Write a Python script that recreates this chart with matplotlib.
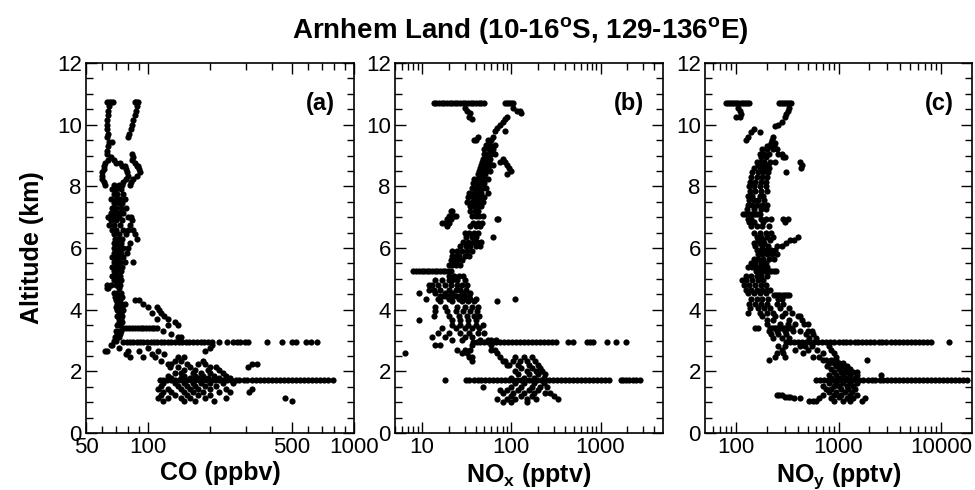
import matplotlib
matplotlib.use("Agg")
import matplotlib.pyplot as plt
from matplotlib.ticker import FixedLocator, FixedFormatter, MultipleLocator, NullFormatter

plt.rcParams['font.family'] = ['Liberation Sans', 'DejaVu Sans']
plt.rcParams['mathtext.fontset'] = 'custom'
plt.rcParams['mathtext.rm'] = 'Liberation Sans'
plt.rcParams['mathtext.bf'] = 'Liberation Sans:bold'
plt.rcParams['mathtext.it'] = 'Liberation Sans:italic'

# ---- data: (altitude km, [values at that altitude]) ----
co_profile = [
    (10.72, [63, 64.5, 66, 67.5, 86, 87.5, 89]), (10.6, [65, 88]), (10.45, [64, 87]),
    (10.3, [64, 86]), (10.15, [63, 85]), (10.0, [63, 84]), (9.85, [63, 83]),
    (9.7, [64, 81]), (9.6, [63, 80]), (9.45, [65, 67]), (9.3, [64]), (9.15, [63]),
    (9.05, [63, 84]), (8.95, [66, 85]), (8.85, [64, 68, 84]), (8.75, [62, 70, 73, 86]),
    (8.65, [61, 75, 77, 88, 89]), (8.55, [61, 78, 90]), (8.45, [60, 79, 91]),
    (8.35, [60, 80, 88]), (8.25, [60, 78, 85]), (8.15, [61, 76, 83]),
    (8.05, [62, 68, 72, 75, 82]), (7.9, [67, 70, 74]), (7.75, [68, 71, 76]),
    (7.6, [66, 70, 73, 77]), (7.45, [68, 72, 75]), (7.3, [67, 70, 74, 78]),
    (7.15, [66, 69, 72, 76]), (7.0, [64, 65, 67, 69, 72, 80, 83]), (6.9, [66, 70, 75, 84]),
    (6.75, [65, 68, 73, 82]), (6.6, [67, 70, 76, 80, 85]), (6.45, [68, 72, 78, 86]),
    (6.3, [69, 72, 75, 88]), (6.15, [68, 71, 74, 82]), (6.0, [68, 70, 73, 76, 80]),
    (5.85, [68, 71, 74, 79]), (5.7, [67, 70, 72, 76]), (5.55, [68, 71, 73, 77, 85]),
    (5.4, [67, 69, 72, 75]), (5.25, [68, 71, 74]), (5.1, [67, 70, 73]),
    (4.95, [68, 71, 74]), (4.8, [63, 66, 70, 73]), (4.7, [63, 64, 72]),
    (4.55, [68, 71, 74]), (4.4, [69, 72, 75]), (4.3, [70, 73, 86, 90]),
    (4.2, [71, 74, 77, 95]), (4.1, [70, 72, 75, 100, 110]), (4.0, [71, 73, 76, 113]),
    (3.9, [72, 74, 105, 115]), (3.8, [71, 73, 75, 120]), (3.7, [72, 74, 110, 125]),
    (3.6, [72, 75, 135]), (3.5, [71, 73, 125, 140]), (3.3, [70, 72, 74, 118]),
    (3.2, [71, 73, 130]), (3.1, [69, 72, 140, 145]), (3.0, [68, 70]),
    (2.85, [66, 67, 205]), (2.75, [72, 100, 200]), (2.65, [62, 63, 80, 90, 112, 190]),
    (2.55, [78, 105, 120]), (2.45, [82, 95, 108, 140, 150]), (2.35, [115, 135, 145, 185]),
    (2.25, [125, 130, 155, 175, 190, 320, 340]), (2.15, [128, 140, 160, 200, 215, 305]),
    (2.05, [150, 170, 195, 220]), (1.95, [135, 145, 165, 180, 200, 230]),
    (1.85, [125, 150, 170, 185, 210, 240]), (1.8, [130, 145, 160, 175, 195, 220, 250]),
    (1.62, [118, 135, 150, 165, 180, 200, 230, 260]), (1.52, [115, 140, 155, 170, 190, 215]),
    (1.42, [112, 125, 145, 160, 175, 200, 240, 320]),
    (1.32, [118, 130, 150, 165, 185, 220, 250, 310]), (1.22, [115, 135, 155, 175, 200]),
    (1.12, [112, 125, 145, 160, 190, 240, 465]), (1.04, [118, 150, 170, 210, 500]),
]
co_leg_alt = [3.42, 2.95, 1.72]
co_leg_ppbv = [
    [76, 78.5, 81, 83.5, 86, 89, 92, 95, 98, 101, 104, 107, 110],
    [76, 79, 82, 85, 88, 91, 95, 99, 103, 107, 111, 115, 120, 125, 130, 135, 141, 147,
     153, 159, 166, 173, 180, 188, 196, 205, 220, 241, 260, 270, 280, 295, 305, 378,
     446, 500, 525, 585, 620, 659],
    [114, 118, 123, 129, 135, 141, 148, 155, 162, 169, 177, 185, 194, 203, 212, 222,
     232, 243, 254, 266, 278, 291, 304, 318, 333, 348, 364, 381, 399, 417, 436, 456,
     477, 499, 522, 546, 571, 597, 625, 654, 684, 715, 748, 790],
]

nox_profile = [
    (10.55, [30, 105]), (10.45, [32, 115, 125]), (10.38, [35, 130]), (10.25, [34, 90]),
    (10.18, [36, 85]), (10.08, [80]), (9.98, [75]), (9.88, [70]), (9.78, [65, 85]),
    (9.6, [42, 62]), (9.5, [38, 40, 55, 60]), (9.35, [52, 58, 65]), (9.2, [50, 56, 62]),
    (9.05, [50, 55, 60, 65]), (8.9, [48, 53, 58, 80]), (8.8, [47, 52, 57, 75, 85]),
    (8.7, [46, 51, 56, 62, 90]), (8.6, [45, 50, 55, 95]), (8.5, [44, 48, 52, 58, 100]),
    (8.4, [43, 47, 51, 90]), (8.25, [38, 42, 46, 50, 55]), (8.1, [37, 41, 45, 49]),
    (7.95, [36, 40, 44, 48, 52]), (7.8, [34, 38, 42, 46, 55]), (7.65, [33, 37, 41, 45, 50]),
    (7.5, [32, 36, 40, 44, 48]), (7.35, [35, 38, 42, 46]), (7.2, [21, 22, 35, 39, 43]),
    (7.05, [20, 23, 24, 36, 40, 44, 48]), (6.95, [19, 21, 70, 72]),
    (6.8, [17, 18, 20, 37, 42, 47]), (6.7, [19, 35, 40, 45]), (6.5, [30, 34, 38, 42]),
    (6.35, [31, 36, 40, 63]), (6.2, [29, 33, 37, 41, 46]), (6.05, [27, 31, 35, 40, 45]),
    (5.9, [22, 25, 28, 32, 36]), (5.75, [22, 24, 26, 30, 34]), (5.6, [21, 23, 25, 28]),
    (5.45, [20, 22, 24, 27]), (5.1, [20, 23, 26, 29]), (4.95, [14, 17, 20, 22, 25, 30]),
    (4.8, [12, 13, 15, 18, 21, 25, 28, 32]), (4.65, [12, 13.5, 16, 20, 24, 27, 31]),
    (4.55, [9.3, 14, 18, 22, 29, 35]), (4.35, [11, 15, 20, 26, 30, 35, 40, 110]),
    (4.28, [16, 22, 28, 33, 38, 70]), (4.1, [14, 18, 25, 30, 36, 42]),
    (3.95, [14, 19, 24, 29, 35, 41]), (3.8, [13.5, 20, 26, 32, 38, 44]),
    (3.65, [9.3, 22, 27, 33, 40]), (3.5, [22, 27, 33, 40, 48]), (3.4, [17, 24, 30, 36, 44]),
    (3.25, [15, 20, 27, 34, 42, 50]), (3.1, [13, 18, 30, 36]),
    (3.02, [22, 28, 45, 55, 60, 68]), (2.85, [14, 16, 36, 60]), (2.7, [25, 30, 35, 60, 65]),
    (2.58, [6.5, 28, 32, 70]), (2.45, [34, 36, 75, 110, 140, 170]),
    (2.35, [36, 80, 85, 105, 125, 150, 185]), (2.22, [90, 95, 120, 160, 200]),
    (2.1, [130, 170, 210]), (2.0, [110, 150, 190, 220]), (1.9, [120, 160, 200, 240]),
    (1.8, [100, 140, 180, 230]), (1.62, [110, 140, 180, 230]),
    (1.5, [48, 100, 130, 170, 210, 250]), (1.4, [75, 90, 120, 160, 200]),
    (1.3, [80, 105, 140, 180, 240, 270]), (1.2, [100, 130, 170, 300]),
    (1.1, [70, 90, 110, 150, 190, 330]), (1.02, [80, 100, 150]),
]
nox_leg_alt = [10.7, 5.25, 4.45, 2.95, 1.72]
nox_leg_pptv = [
    [13.5, 14.5, 15.5, 16.6, 17.8, 19, 20.4, 21.8, 23.4, 25, 26.8, 28.7, 30.7, 32.9,
     35.2, 37.7, 40.4, 43.3, 46.3, 49.6, 85, 90, 95, 100, 104],
    [8, 8.6, 9.2, 9.9, 10.6, 11.3, 12.1, 13, 13.9, 14.9, 16, 17.1, 18.3, 19.6, 21],
    [16, 17.2, 18.4, 19.7, 21, 22.5, 24, 25.8, 27.6, 29.5, 31.6, 33.8],
    [37, 41, 45, 50, 55, 61, 68, 75, 83, 92, 102, 113, 125, 139, 154, 170, 189, 209,
     232, 257, 285, 320, 430, 490, 700, 760, 830, 1170, 1500, 1950],
    [18, 31, 34, 38, 42, 46, 51, 57, 63, 70, 77, 85, 95, 105, 116, 129, 143, 158, 175,
     194, 215, 238, 264, 292, 324, 359, 398, 441, 489, 542, 600, 665, 737, 817, 905,
     1003, 1110, 1230, 1700, 1800, 1950, 2100, 2300, 2500, 2750],
]

noy_profile = [
    (10.55, [105, 330]), (10.45, [110, 320]), (10.35, [112, 310]), (10.25, [100, 110, 300]),
    (10.1, [280]), (10.0, [260]), (9.95, [240]), (9.85, [150]), (9.75, [140, 170]),
    (9.6, [130, 230]), (9.5, [125, 225]), (9.4, [220, 240]), (9.3, [200, 210, 235]),
    (9.2, [180, 200, 230, 250]), (9.05, [170, 190, 210, 260, 280]),
    (8.95, [175, 195, 290, 300]), (8.8, [160, 175, 190, 215, 240, 420]),
    (8.7, [165, 185, 205, 440]), (8.6, [150, 170, 190, 210, 430]),
    (8.45, [145, 165, 185, 205, 310]), (8.3, [140, 160, 180, 200]),
    (8.15, [138, 155, 175, 195]), (8.0, [135, 150, 170, 195]), (7.85, [138, 155, 175, 200]),
    (7.7, [130, 145, 170, 185]), (7.55, [135, 150, 165, 190]),
    (7.4, [130, 145, 160, 180, 200]), (7.25, [128, 150, 175, 195]),
    (6.95, [130, 140, 175, 195, 220, 290, 320]), (6.85, [135, 150, 185, 300]),
    (6.7, [140, 160, 180, 210]), (6.5, [150, 170, 195, 220]),
    (6.35, [160, 175, 200, 230, 400]), (6.25, [165, 185, 215, 340, 370]),
    (6.15, [150, 170, 190, 310]), (6.05, [155, 180, 205, 250, 280]),
    (5.95, [160, 175, 195, 220, 240]), (5.8, [165, 180, 200, 225, 250]),
    (5.65, [150, 165, 185, 210, 235]), (5.5, [140, 155, 175, 195]),
    (5.4, [130, 145, 160, 180, 200]), (5.1, [125, 140, 160, 175, 200]),
    (4.95, [115, 125, 145, 165, 185]), (4.8, [120, 135, 155, 175, 195]),
    (4.65, [125, 140, 160, 180, 200, 215]), (4.55, [130, 150, 170, 195]),
    (4.35, [140, 160, 180, 205, 260, 280]), (4.2, [135, 155, 175, 200, 250, 290]),
    (4.05, [138, 165, 190, 215, 270, 330]), (3.9, [130, 170, 200, 230, 300, 350]),
    (3.78, [180, 240, 280, 400, 420]), (3.65, [200, 230, 330, 440]),
    (3.52, [200, 270, 320, 380, 460, 500]), (3.4, [155, 165]),
    (3.3, [210, 250, 300, 360, 420, 500, 550]), (3.2, [220, 260, 310, 480, 560]),
    (3.08, [230, 280, 330, 520, 600]), (2.82, [260, 300, 420, 470, 550, 800]),
    (2.7, [280, 380, 500, 620, 850]), (2.6, [250, 290, 450, 700, 900]),
    (2.48, [240, 300, 560, 650, 950]), (2.37, [210, 700, 750, 850, 950, 1900]),
    (2.28, [800, 900, 1000, 1100]), (2.18, [780, 950, 1050, 1200]),
    (2.08, [850, 1000, 1150, 1300]), (1.98, [900, 1050, 1200, 1400, 1500]),
    (1.88, [800, 950, 1100, 1300, 1500, 2600]), (1.8, [850, 1000, 1200, 1450]),
    (1.62, [800, 950, 1100, 1300, 1500]), (1.52, [700, 900, 1000, 1200, 1400]),
    (1.42, [750, 850, 1050, 1250, 1450]), (1.32, [800, 950, 1150, 1350]),
    (1.22, [250, 265, 280, 700, 900, 1050, 1300, 1500]), (1.16, [300, 320, 340, 1000]),
    (1.12, [370, 420, 650, 850, 1200, 1400, 1800]),
    (1.05, [520, 560, 600, 900, 1100, 1300, 1700]),
]
noy_leg_alt = [10.7, 7.1, 5.25, 4.48, 3.42, 2.95, 1.72]
noy_leg_pptv = [
    [80, 84, 88, 92, 96, 101, 106, 111, 116, 122, 128, 134, 262, 275, 288, 302, 316, 332, 348],
    [118, 124, 130, 136, 143, 150, 157, 165, 173],
    [158, 166, 174, 183, 192, 201, 211, 222, 233, 245],
    [235, 247, 259, 272, 286, 300, 316, 332],
    [214, 225, 236, 248, 260, 273, 287, 302, 317, 333, 350],
    [310, 340, 372, 407, 445, 487, 533, 583, 638, 698, 763, 835, 913, 1000, 1094, 1196,
     1309, 1432, 1566, 1713, 1874, 2050, 2243, 2454, 2684, 2936, 3212, 3514, 3844, 4205,
     4600, 5033, 5506, 6023, 6589, 7208, 7886, 12000],
    [607, 660, 720, 790, 860, 940, 1030, 1120, 1230, 1340, 1470, 1600, 1750, 1920, 2100,
     2290, 2510, 2740, 3000, 3280, 3590, 3920, 4290, 4690, 5130, 5610, 6130, 6700, 7330,
     8020, 8770, 9590, 10500, 11500, 12500, 13700, 15000, 16400, 18000],
]

xlabels = ["CO (ppbv)", r"NO$_\mathbf{x}$ (pptv)", r"NO$_\mathbf{y}$ (pptv)"]
panel_tags = ["(a)", "(b)", "(c)"]
xlims = [(50, 1000), (5, 5000), (50, 20000)]
major_ticks = [[50, 100, 500, 1000], [10, 100, 1000], [100, 1000, 10000]]
major_labels = [["50", "100", "500", "1000"], ["10", "100", "1000"], ["100", "1000", "10000"]]
minor_ticks = [
    [60, 70, 80, 90, 200, 300, 400, 600, 700, 800, 900],
    [5, 6, 7, 8, 9, 20, 30, 40, 50, 60, 70, 80, 90, 200, 300, 400, 500, 600, 700, 800,
     900, 2000, 3000, 4000],
    [60, 70, 80, 90, 200, 300, 400, 500, 600, 700, 800, 900, 2000, 3000, 4000, 5000,
     6000, 7000, 8000, 9000],
]


def unpack(rows, leg_alt, leg_vals):
    alt, val = [], []
    for a, vs in rows:
        alt += [a] * len(vs)
        val += vs
    for a, vs in zip(leg_alt, leg_vals):
        alt += [a] * len(vs)
        val += vs
    return alt, val


panels = [
    unpack(co_profile, co_leg_alt, co_leg_ppbv),
    unpack(nox_profile, nox_leg_alt, nox_leg_pptv),
    unpack(noy_profile, noy_leg_alt, noy_leg_pptv),
]

fig = plt.figure(figsize=(9.75, 4.9), dpi=100)
lefts = [86, 395, 705]
widths = [268, 268, 267]

for i in range(3):
    ax = fig.add_axes([lefts[i] / 975, 57 / 490, widths[i] / 975, 370 / 490])
    alt, val = panels[i]
    ax.scatter(val, alt, s=20, c="black", linewidths=0, zorder=3)
    ax.set_xscale("log")
    ax.set_xlim(*xlims[i])
    ax.set_ylim(0, 12)
    ax.xaxis.set_major_locator(FixedLocator(major_ticks[i]))
    ax.xaxis.set_major_formatter(FixedFormatter(major_labels[i]))
    ax.xaxis.set_minor_locator(FixedLocator(minor_ticks[i]))
    ax.xaxis.set_minor_formatter(NullFormatter())
    ax.yaxis.set_major_locator(MultipleLocator(2))
    ax.yaxis.set_minor_locator(MultipleLocator(0.5))
    ax.tick_params(which="both", direction="in", top=True, right=True, labelsize=16,
                   width=1)
    ax.tick_params(which="major", length=8, pad=3)
    ax.tick_params(which="minor", length=5)
    for sp in ax.spines.values():
        sp.set_linewidth(1.2)
    ax.set_xlabel(xlabels[i], fontsize=18, fontweight="bold", labelpad=2)
    ax.text(0.93, 0.89, panel_tags[i], transform=ax.transAxes, ha="right", va="center",
            fontsize=17, fontweight="bold")
    if i == 0:
        ax.set_ylabel("Altitude (km)", fontsize=18, fontweight="bold", labelpad=9)

fig.text(0.534, 0.937, r"Arnhem Land (10-16$^\mathbf{o}$S, 129-136$^\mathbf{o}$E)",
         ha="center", va="center", fontsize=20, fontweight="bold")

fig.savefig("out.png", dpi=100)
